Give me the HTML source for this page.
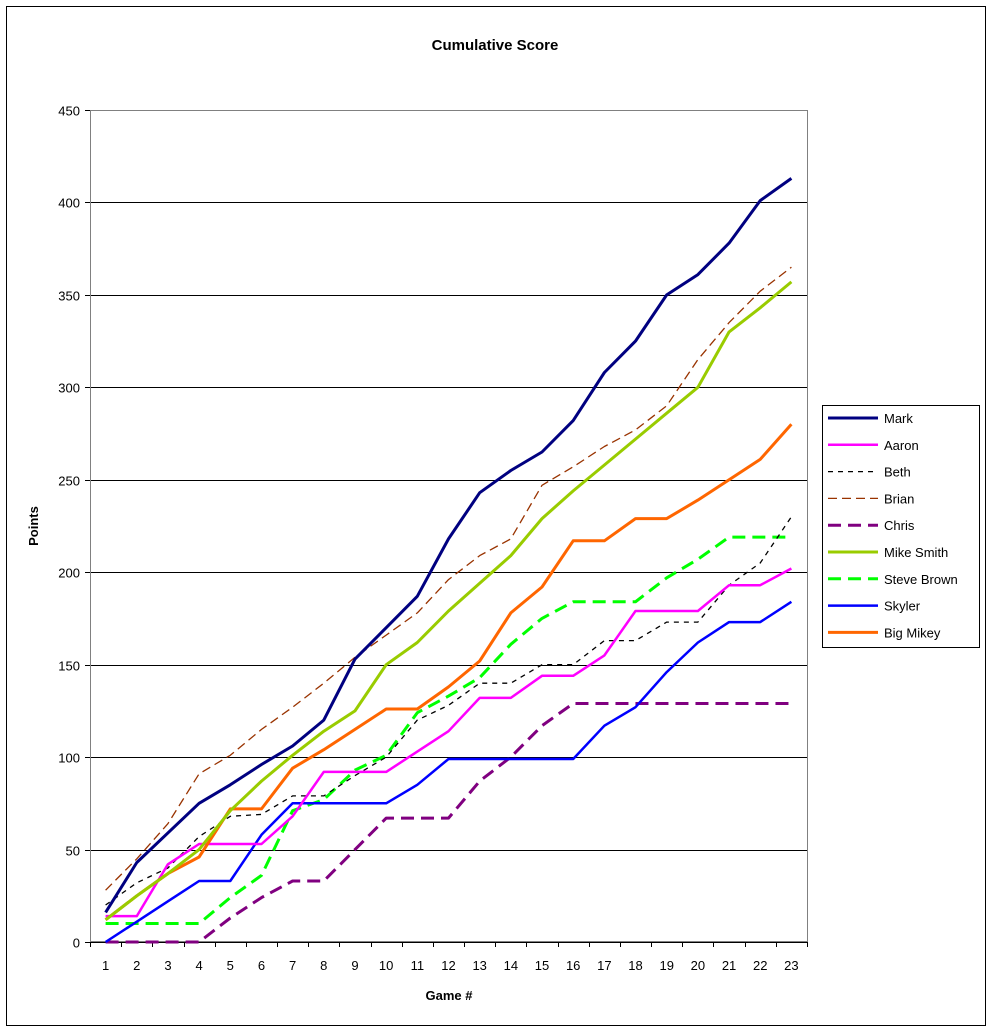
<!DOCTYPE html>
<html><head><meta charset="utf-8"><style>
body{margin:0;background:#fff;}
svg{display:block;font-family:"Liberation Sans",Arial,sans-serif;}
</style></head><body>
<svg id="c" width="992" height="1032" xmlns="http://www.w3.org/2000/svg">
<rect x="6.5" y="6.5" width="979" height="1019" fill="#fff" stroke="#000" stroke-width="1"/>
<text x="495" y="50" font-size="15" font-weight="bold" text-anchor="middle">Cumulative Score</text>
<g id="grid"></g>
<rect x="90.5" y="110.5" width="717" height="831" fill="none" stroke="#808080" stroke-width="1"/>
<g id="series"></g>
<text transform="translate(38,526) rotate(-90)" font-size="13" font-weight="bold" text-anchor="middle">Points</text>
<text x="449" y="1000" font-size="13" font-weight="bold" text-anchor="middle">Game #</text>
<rect x="822.5" y="405.5" width="157" height="242" fill="#fff" stroke="#000"/>
<g id="legend"></g>
</svg>
<script>
var NS="http://www.w3.org/2000/svg";
function el(t,a,p,txt){var e=document.createElementNS(NS,t);for(var k in a)e.setAttribute(k,a[k]);if(txt!=null)e.textContent=txt;p.appendChild(e);return e;}
var g=document.getElementById('grid');
function Y(v){return 942-v*832/450;}
function X(i){return 90+(i-0.5)*717/23;}
for(var v=0;v<=450;v+=50){var y=Math.round(Y(v))+0.5;
 if(v>0)el('line',{x1:90,x2:807,y1:y,y2:y,stroke:'#000','stroke-width':1},g);
 el('line',{x1:85,x2:90,y1:y,y2:y,stroke:'#000'},g);
 el('text',{x:80,y:y+5,'font-size':13,'text-anchor':'end'},g,v);}
el('line',{x1:90,x2:807,y1:942.5,y2:942.5,stroke:'#000'},g);
for(var i=0;i<=23;i++){var x=Math.round(90+i*717/23)+0.5;el('line',{x1:x,x2:x,y1:942,y2:947,stroke:'#000'},g);}
for(var i=1;i<=23;i++)el('text',{x:X(i),y:970,'font-size':13,'text-anchor':'middle'},g,i);
var S=[
["Mark","#000080",3,"",[16,43,59,75,85,96,106,120,153,170,187,218,243,255,265,282,308,325,350,361,378,401,413]],
["Aaron","#ff00ff",2.5,"",[14,14,42,53,53,53,68,92,92,92,103,114,132,132,144,144,155,179,179,179,193,193,202]],
["Beth","#000000",1.3,"5,5",[20,32,40,57,68,69,79,79,90,100,120,128,140,140,150,150,163,163,173,173,193,205,230]],
["Brian","#993300",1.3,"9,5",[28,45,64,91,101,115,127,140,154,166,178,196,209,218,247,257,268,277,290,315,335,352,365]],
["Chris","#800080",3,"13,7",[0,0,0,0,13,24,33,33,50,67,67,67,87,100,117,129,129,129,129,129,129,129,129]],
["Mike Smith","#99cc00",3,"",[12,25,37,50,71,87,101,114,125,150,162,179,194,209,229,244,258,272,286,300,330,343,357]],
["Steve Brown","#00ff00",3,"13,7",[10,10,10,10,24,36,71,77,93,101,124,133,143,161,175,184,184,184,197,207,219,219,219]],
["Skyler","#0000ff",2.5,"",[0,11,22,33,33,58,75,75,75,75,85,99,99,99,99,99,117,127,146,162,173,173,184]],
["Big Mikey","#ff6600",3,"",[12,25,37,46,72,72,94,104,115,126,126,138,152,178,192,217,217,229,229,239,250,261,280]]];
var s=document.getElementById('series'),L=document.getElementById('legend');
var order=[4,6,2,3,7,1,8,5,0];
order.forEach(function(k){var d=S[k];var pts=d[4].map(function(v,i){return X(i+1).toFixed(1)+","+Y(v).toFixed(1);}).join(" ");
 var a={points:pts,fill:'none',stroke:d[1],'stroke-width':d[2],'stroke-linejoin':'round'};if(d[3])a['stroke-dasharray']=d[3];el('polyline',a,s);});
S.forEach(function(d,k){var y=418+k*26.8;var a={x1:828,x2:878,y1:y,y2:y,stroke:d[1],'stroke-width':d[2]};if(d[3])a['stroke-dasharray']=d[3];el('line',a,L);
 el('text',{x:884,y:y+5,'font-size':13},L,d[0]);});
</script>
</body></html>
